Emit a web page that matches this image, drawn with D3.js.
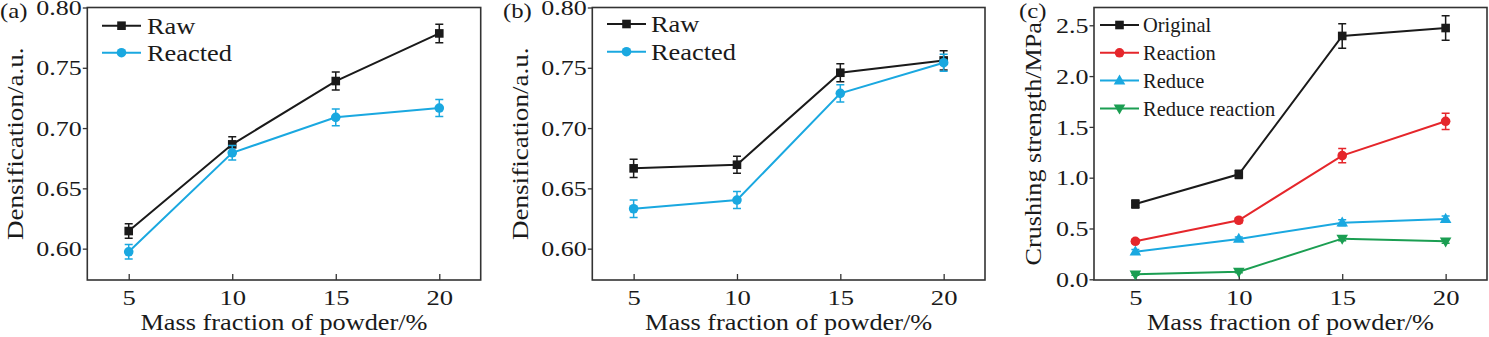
<!DOCTYPE html>
<html>
<head>
<meta charset="utf-8">
<script src="https://cdn.jsdelivr.net/npm/d3@7"></script>
<style>
  html, body { margin: 0; padding: 0; background: #fff; }
  svg { display: block; }
  text { font-family: "Liberation Serif", "Times New Roman", Times, serif; fill: #1a1a1a; }
</style>
</head>
<body>
<svg id="chart" width="1489" height="337"></svg>
<script>
// Mass fraction of powder (%)
const massFraction = [5, 10, 15, 20];

// (a) densification
const aRaw = [0.6146, 0.6865, 0.7390, 0.7785];
const aRawErr = [0.006, 0.0063, 0.0075, 0.0077];
const aReacted = [0.5974, 0.6795, 0.7089, 0.7166];
const aReactedErr = [0.006, 0.006, 0.007, 0.007];

// (b) densification
const bRaw = [0.6666, 0.6696, 0.7459, 0.7561];
const bRawErr = [0.0076, 0.007, 0.0075, 0.008];
const bReacted = [0.6331, 0.6403, 0.7288, 0.7542];
const bReactedErr = [0.0072, 0.007, 0.0072, 0.007];

// (c) crushing strength, MPa
const cOriginal = [0.741, 1.033, 2.395, 2.473];
const cOriginalErr = [0.04, 0.04, 0.12, 0.121];
const cReaction = [0.374, 0.581, 1.217, 1.555];
const cReactionErr = [0.02, 0.025, 0.07, 0.08];
const cReduce = [0.272, 0.397, 0.557, 0.593];
const cReduceErr = [0.02, 0.02, 0.03, 0.03];
const cReduceReaction = [0.049, 0.075, 0.400, 0.374];
const cReduceReactionErr = [0.01, 0.01, 0.02, 0.02];

const xTicks = [5, 10, 15, 20];
const densTicks = [0.60, 0.65, 0.70, 0.75, 0.80];
const strengthTicks = [0.0, 0.5, 1.0, 1.5, 2.0, 2.5];

const xLabel = "Mass fraction of powder/%";

const BLACK = "#1a1a1a", CYAN = "#1aa8e0", RED = "#e5262b", GREEN = "#1b9e52";

const panels = [
  {
    tag: "(a)", left: 87.3, right: 480.7, top: 7.5, bottom: 280,
    yDomain: [0.5740, 0.8000], yTicks: densTicks, yFmt: d3.format(".2f"),
    yTitle: "Densification/a.u.", yTitleX: 15, yTitleScale: 1.13, tagX: 0,
    legend: { lineX: 102, textX: 147, y0: 25.7, dy: 27, size: 24, scale: 1.1 },
    series: [
      { name: "Raw", values: aRaw, err: aRawErr, color: BLACK, marker: "square" },
      { name: "Reacted", values: aReacted, err: aReactedErr, color: CYAN, marker: "circle" }
    ]
  },
  {
    tag: "(b)", left: 592.3, right: 985, top: 7.5, bottom: 280,
    yDomain: [0.5740, 0.8000], yTicks: densTicks, yFmt: d3.format(".2f"),
    yTitle: "Densification/a.u.", yTitleX: 520, yTitleScale: 1.13, tagX: 503,
    legend: { lineX: 607, textX: 651, y0: 24, dy: 27.7, size: 24, scale: 1.1 },
    series: [
      { name: "Raw", values: bRaw, err: bRawErr, color: BLACK, marker: "square" },
      { name: "Reacted", values: bReacted, err: bReactedErr, color: CYAN, marker: "circle" }
    ]
  },
  {
    tag: "(c)", left: 1094, right: 1487, top: 7.5, bottom: 280,
    yDomain: [-0.007, 2.675], yTicks: strengthTicks, yFmt: d3.format(".1f"),
    yTitle: "Crushing strength/MPa", yTitleX: 1033, yTitleScale: 1.09, tagX: 1019,
    legend: { lineX: 1100, textX: 1143, y0: 25, dy: 27.8, size: 22, scale: 0.93 },
    series: [
      { name: "Original", values: cOriginal, err: cOriginalErr, color: BLACK, marker: "square" },
      { name: "Reaction", values: cReaction, err: cReactionErr, color: RED, marker: "circle" },
      { name: "Reduce", values: cReduce, err: cReduceErr, color: CYAN, marker: "triUp" },
      { name: "Reduce reaction", values: cReduceReaction, err: cReduceReactionErr, color: GREEN, marker: "triDown" }
    ]
  }
];

const svg = d3.select("#chart");

// horizontally stretch a text element around its anchor point
function stretch(sel, s) {
  sel.each(function () {
    const t = d3.select(this);
    const x = +t.attr("x") || 0;
    const prev = t.attr("transform") || "";
    t.attr("transform", `${prev} translate(${x},0) scale(${s},1) translate(${-x},0)`);
  });
}

function drawMarker(g, type, cx, cy, color) {
  if (type === "square") {
    g.append("rect").attr("x", cx - 4.3).attr("y", cy - 4.3)
      .attr("width", 8.6).attr("height", 8.6).attr("fill", color);
  } else if (type === "circle") {
    g.append("circle").attr("cx", cx).attr("cy", cy).attr("r", 4.8).attr("fill", color);
  } else {
    const sym = d3.symbol().type(d3.symbolTriangle).size(58);
    g.append("path").attr("d", sym())
      .attr("transform", `translate(${cx},${cy + (type === "triDown" ? -0.5 : 0.5)})${type === "triDown" ? " rotate(180)" : ""}`)
      .attr("fill", color);
  }
}

panels.forEach(p => {
  const x = d3.scaleLinear().domain([3, 22]).range([p.left, p.right]);
  const y = d3.scaleLinear().domain(p.yDomain).range([p.bottom, p.top]);
  const g = svg.append("g");

  // x axis: ticks point inward
  const gx = g.append("g").attr("transform", `translate(0,${p.bottom})`)
    .call(d3.axisBottom(x).tickValues(xTicks).tickSizeInner(-6).tickSizeOuter(0).tickPadding(10).tickFormat(d3.format("d")));
  gx.select(".domain").remove();
  gx.selectAll("line").attr("stroke", "#333").attr("stroke-width", 1.3);
  gx.selectAll("text").attr("font-size", 20.5).attr("font-family", null).attr("fill", "#1a1a1a").call(stretch, 1.3);

  // y axis: ticks point outward
  const gy = g.append("g").attr("transform", `translate(${p.left},0)`)
    .call(d3.axisLeft(y).tickValues(p.yTicks).tickSizeInner(4.5).tickSizeOuter(0).tickPadding(1).tickFormat(p.yFmt));
  gy.attr("font-family", null);
  gx.attr("font-family", null);
  gy.select(".domain").remove();
  gy.selectAll("line").attr("stroke", "#333").attr("stroke-width", 1.3);
  gy.selectAll("text").attr("font-size", 20).attr("fill", "#1a1a1a").attr("dy", "0.36em").call(stretch, 1.3);

  // frame
  g.append("rect").attr("x", p.left).attr("y", p.top)
    .attr("width", p.right - p.left).attr("height", p.bottom - p.top)
    .attr("fill", "none").attr("stroke", "#333").attr("stroke-width", 1.6);

  // axis titles
  const cx = (p.left + p.right) / 2;
  g.append("text").attr("x", cx).attr("y", 330).attr("text-anchor", "middle")
    .attr("font-size", 22.5).text(xLabel).call(stretch, 1.17);

  const cy = (p.top + p.bottom) / 2;
  g.append("text").attr("x", 0).attr("y", 0).attr("text-anchor", "middle")
    .attr("font-size", 24).attr("dy", "0.33em")
    .attr("transform", `translate(${p.yTitleX},${cy}) rotate(-90) scale(${p.yTitleScale},1)`)
    .text(p.yTitle);

  // panel tag
  g.append("text").attr("x", p.tagX).attr("y", 18).attr("font-size", 21)
    .text(p.tag).call(stretch, 1.18);

  // series lines, error bars, markers
  p.series.forEach(s => {
    const pts = massFraction.map((m, i) => ({ m, v: s.values[i], e: s.err[i] }));
    g.append("path").datum(pts)
      .attr("d", d3.line().x(d => x(d.m)).y(d => y(d.v)))
      .attr("fill", "none").attr("stroke", s.color).attr("stroke-width", 2);
    pts.forEach(d => {
      const px = x(d.m), y1 = y(d.v + d.e), y2 = y(d.v - d.e);
      g.append("path")
        .attr("d", `M${px},${y1}V${y2}M${px - 4},${y1}H${px + 4}M${px - 4},${y2}H${px + 4}`)
        .attr("stroke", s.color).attr("stroke-width", 1.5).attr("fill", "none");
      drawMarker(g, s.marker, px, y(d.v), s.color);
    });
  });

  // legend
  const L = p.legend;
  p.series.forEach((s, i) => {
    const ly = L.y0 + i * L.dy;
    g.append("line").attr("x1", L.lineX).attr("x2", L.lineX + 39)
      .attr("y1", ly).attr("y2", ly).attr("stroke", s.color).attr("stroke-width", 2);
    drawMarker(g, s.marker, L.lineX + 19.5, ly, s.color);
    g.append("text").attr("x", L.textX).attr("y", ly).attr("dy", "0.33em")
      .attr("font-size", L.size).text(s.name).call(stretch, L.scale);
  });
});
</script>
</body>
</html>
